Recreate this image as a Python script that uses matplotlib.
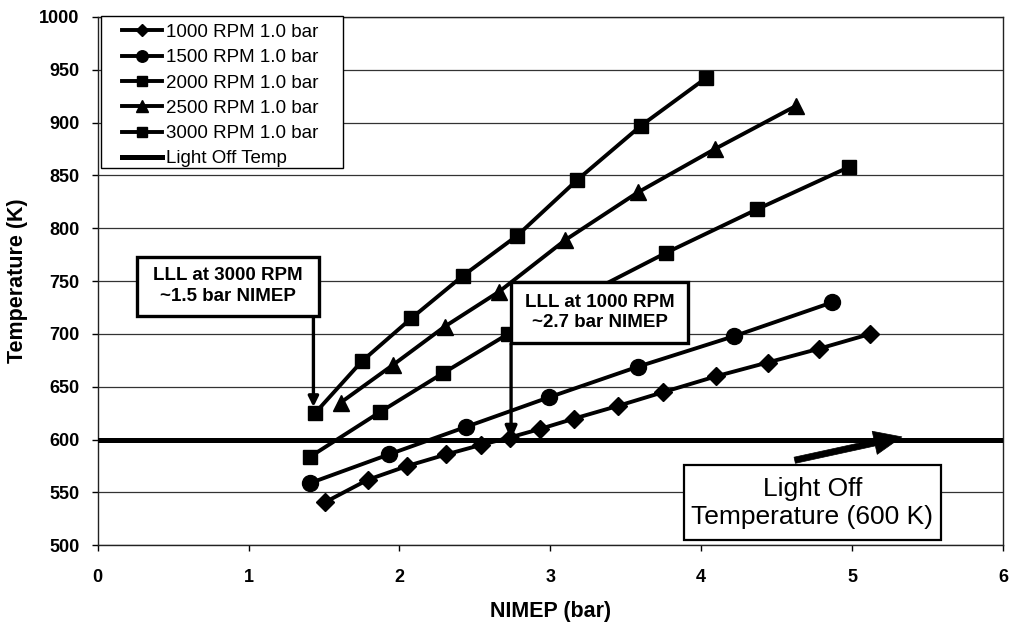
import matplotlib
matplotlib.use("Agg")
import matplotlib.pyplot as plt
from matplotlib.patches import Rectangle

plt.rcParams['font.family'] = ['Liberation Sans', 'DejaVu Sans']

# ---- data ----
x_1000 = [1.51, 1.79, 2.05, 2.31, 2.54, 2.73, 2.93, 3.16, 3.45, 3.75, 4.10, 4.44, 4.78, 5.12]
t_1000 = [541, 562, 575, 586, 595, 602, 610, 620, 632, 645, 660, 673, 686, 700]

x_1500 = [1.41, 1.93, 2.44, 2.99, 3.58, 4.22, 4.87]
t_1500 = [559, 586, 612, 640, 669, 698, 730]

x_2000 = [1.41, 1.87, 2.29, 2.72, 3.77, 4.37, 4.98]
t_2000 = [584, 626, 663, 700, 777, 818, 858]

x_2500 = [1.61, 1.96, 2.30, 2.66, 3.10, 3.58, 4.09, 4.63]
t_2500 = [635, 671, 707, 740, 789, 834, 875, 916]

x_3000 = [1.44, 1.75, 2.08, 2.42, 2.78, 3.18, 3.60, 4.03]
t_3000 = [625, 674, 715, 755, 793, 846, 897, 942]

light_off_temp = 600

series_labels = ["1000 RPM 1.0 bar", "1500 RPM 1.0 bar", "2000 RPM 1.0 bar",
                 "2500 RPM 1.0 bar", "3000 RPM 1.0 bar", "Light Off Temp"]
x_ticks = [0, 1, 2, 3, 4, 5, 6]
y_ticks = [500, 550, 600, 650, 700, 750, 800, 850, 900, 950, 1000]

# ---- figure ----
fig = plt.figure(figsize=(10.09, 6.22), dpi=100)
ax = fig.add_axes([0.0968, 0.1233, 0.8972, 0.8494])
ax.set_xlim(0, 6)
ax.set_ylim(500, 1000)

for y in y_ticks:
    ax.axhline(y, color='#333333', lw=0.9, zorder=1)

lw = 2.8
ax.plot(x_1000, t_1000, '-D', color='black', lw=lw, ms=9, label=series_labels[0], zorder=3)
ax.plot(x_1500, t_1500, '-o', color='black', lw=lw, ms=11.5, label=series_labels[1], zorder=3)
ax.plot(x_2000, t_2000, '-s', color='black', lw=lw, ms=10.5, label=series_labels[2], zorder=3)
ax.plot(x_2500, t_2500, '-^', color='black', lw=lw, ms=12, label=series_labels[3], zorder=3)
ax.plot(x_3000, t_3000, '-s', color='black', lw=lw, ms=10.5, label=series_labels[4], zorder=3)
ax.axhline(light_off_temp, color='black', lw=3.6, label=series_labels[5], zorder=3)

# ticks & labels
ax.set_xticks(x_ticks)
ax.set_yticks(y_ticks)
ax.tick_params(axis='both', direction='out', length=4, width=1, labelsize=13)
ax.tick_params(axis='y', pad=9)
ax.tick_params(axis='x', pad=13)
for lab in ax.get_xticklabels() + ax.get_yticklabels():
    lab.set_fontweight('bold')
ax.set_xlabel("NIMEP (bar)", fontsize=15.5, fontweight='bold', labelpad=11)
ax.set_ylabel("Temperature (K)", fontsize=15.5, fontweight='bold', labelpad=8)
for s in ax.spines.values():
    s.set_color('#222222')
    s.set_linewidth(1.0)

# legend (frame drawn separately to match the wide padding of the original)
leg_frame = Rectangle((0.0036, 0.7136), 0.2677, 0.2889, transform=ax.transAxes,
                      facecolor='white', edgecolor='black', lw=1.0, zorder=5,
                      clip_on=False)
ax.add_patch(leg_frame)
leg = ax.legend(loc='upper left', bbox_to_anchor=(0.027, 0.987), fontsize=13.5,
                frameon=False, borderpad=0, labelspacing=0.435,
                handlelength=2.15, handletextpad=0.2, borderaxespad=0,
                markerscale=0.72)
leg.set_zorder(6)

# annotation boxes
def box(x0, x1, y0, y1, lwb):
    r = Rectangle((x0, y0), x1 - x0, y1 - y0, facecolor='white', edgecolor='black',
                  lw=lwb, zorder=7)
    ax.add_patch(r)

box(0.263, 1.465, 717, 773, 2.4)
ax.text(0.864, 745, "LLL at 3000 RPM\n~1.5 bar NIMEP", ha='center', va='center',
        fontsize=13.5, fontweight='bold', linespacing=1.3, zorder=8)
ax.annotate('', xy=(1.43, 631), xytext=(1.43, 717),
            arrowprops=dict(arrowstyle='-|>,head_length=0.6,head_width=0.3',
                            color='black', lw=2.4, shrinkA=0, shrinkB=0), zorder=5)

box(2.738, 3.915, 691, 749.4, 2.4)
ax.text(3.327, 720.3, "LLL at 1000 RPM\n~2.7 bar NIMEP", ha='center', va='center',
        fontsize=13.5, fontweight='bold', linespacing=1.3, zorder=8)
ax.annotate('', xy=(2.74, 600), xytext=(2.74, 691),
            arrowprops=dict(arrowstyle='-|>,head_length=0.8,head_width=0.35',
                            color='black', lw=2.4, shrinkA=0, shrinkB=0), zorder=5)

box(3.887, 5.588, 504.8, 575.9, 1.6)
ax.text(4.737, 540.3, "Light Off\nTemperature (600 K)", ha='center', va='center',
        fontsize=19, linespacing=1.2, zorder=8)
ax.annotate('', xy=(5.33, 602.6), xytext=(4.62, 580.5),
            arrowprops=dict(arrowstyle='simple,head_length=2.0,head_width=1.7,tail_width=0.45',
                            color='black', lw=0.5, shrinkA=0, shrinkB=0), zorder=9)

fig.savefig("out.png", dpi=100)
